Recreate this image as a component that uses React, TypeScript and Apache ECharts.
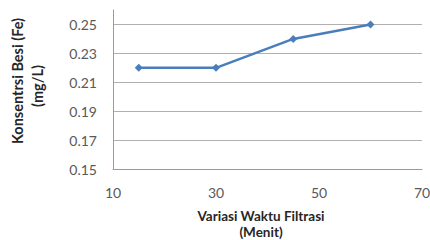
import React, { useEffect, useRef } from "react";
import * as echarts from "echarts";

const waktu = [15, 30, 45, 60];
const besi = [0.22, 0.22, 0.24, 0.25];
const xTitleLines = ["Variasi Waktu Filtrasi", "(Menit)"];
const yTitleLines = ["Konsentrsi Besi (Fe)", "(mg/L)"];

export default function App() {
  const ref = useRef<HTMLDivElement>(null);
  useEffect(() => {
    const chart = echarts.init(ref.current!, null, { renderer: "svg" });
    const font = "Lato, 'Open Sans', sans-serif";
    const titleStyle = {
      fontFamily: font,
      fontWeight: "bold",
      fontSize: 13.5,
      fill: "#262626",
      align: "center",
      verticalAlign: "middle",
    };
    chart.setOption({
      animation: false,
      backgroundColor: "#ffffff",
      textStyle: { fontFamily: font },
      grid: { left: 113, right: 8, top: 10, bottom: 71, containLabel: false, outerBoundsMode: "none" },
      xAxis: {
        type: "value",
        min: 10,
        max: 70,
        interval: 10,
        axisLine: { show: true, lineStyle: { color: "#9a9a9a", width: 1 } },
        axisTick: { show: false },
        splitLine: { show: false },
        axisLabel: {
          margin: 16,
          fontSize: 14,
          color: "#595959",
          fontFamily: font,
          formatter: (v: number) => ((v - 10) % 20 === 0 ? String(v) : ""),
        },
      },
      yAxis: {
        type: "value",
        min: 0.15,
        max: 0.26,
        interval: 0.02,
        axisLine: { show: true, lineStyle: { color: "#9a9a9a", width: 1 } },
        axisTick: { show: false },
        axisLabel: {
          margin: 16,
          fontSize: 14,
          color: "#595959",
          fontFamily: font,
          showMaxLabel: false,
          formatter: (v: number) => v.toFixed(2),
        },
        splitLine: { show: true, showMaxLine: false, lineStyle: { color: "#b0b0b0", width: 1 } },
      },
      graphic: [
        { type: "text", x: 261, y: 215.5, style: { ...titleStyle, text: xTitleLines[0] } },
        { type: "text", x: 261, y: 231.8, style: { ...titleStyle, text: xTitleLines[1] } },
        { type: "text", x: 17, y: 81, rotation: Math.PI / 2, style: { ...titleStyle, fontSize: 14.5, text: yTitleLines[0] } },
        { type: "text", x: 37, y: 86, rotation: Math.PI / 2, style: { ...titleStyle, fontSize: 14.5, text: yTitleLines[1] } },
      ],
      series: [
        {
          type: "line",
          data: waktu.map((x, i) => [x, besi[i]]),
          symbol: "diamond",
          symbolSize: 8,
          lineStyle: { color: "#4a7ebb", width: 2.5 },
          itemStyle: { color: "#4a7ebb" },
        },
      ],
    });
    return () => chart.dispose();
  }, []);
  return (
    <div
      ref={ref}
      style={{ position: "absolute", left: 0, top: 0, width: 430, height: 240 }}
    />
  );
}
